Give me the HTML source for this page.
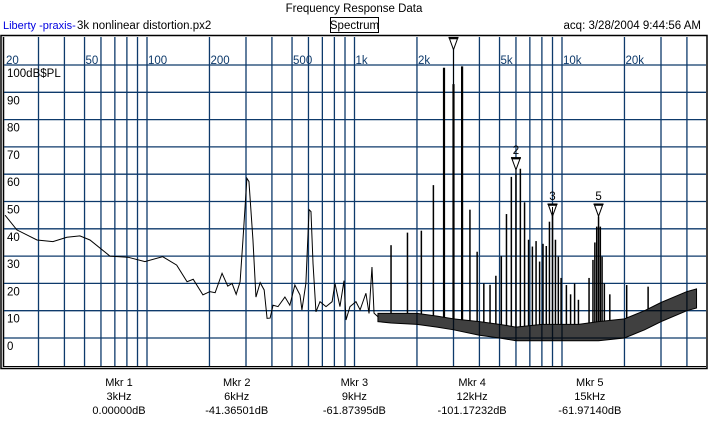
<!DOCTYPE html>
<html><head><meta charset="utf-8"><style>
html,body{margin:0;padding:0;background:#fff;}
body{width:709px;height:441px;overflow:hidden;font-family:"Liberation Sans",sans-serif;}
svg text{font-family:"Liberation Sans",sans-serif;}
</style></head><body>
<svg id="chart" width="709" height="441" xmlns="http://www.w3.org/2000/svg">
<text x="354" y="12" font-size="11.5" text-anchor="middle">Frequency Response Data</text>
<text x="3" y="29" font-size="11" fill="#0000e0">Liberty -praxis-</text>
<text x="77" y="29" font-size="11.5">3k nonlinear distortion.px2</text>
<rect x="330.5" y="17.5" width="48" height="15" fill="none" stroke="#000"/>
<text x="354.5" y="29" font-size="11.5" text-anchor="middle">Spectrum</text>
<text x="701" y="29" font-size="11.5" text-anchor="end">acq: 3/28/2004 9:44:56 AM</text>
<rect x="1" y="35.5" width="706" height="333" fill="none" stroke="#000" stroke-width="1.5"/>
<line x1="3.5" y1="37" x2="3.5" y2="367" stroke="#000" stroke-width="1.5"/>
<line x1="3" y1="366.5" x2="706" y2="366.5" stroke="#000" stroke-width="1"/>
<g id="grid"></g>
<g id="series"></g>
<g id="markers"></g>
<g id="readout"></g>
</svg>
<script>
const ns="http://www.w3.org/2000/svg";
const xTicks=[20,30,40,50,60,70,80,90,100,200,300,400,500,600,700,800,900,1000,2000,3000,4000,5000,6000,7000,8000,9000,10000,20000,30000,40000];
const xTickLabels={20:"20",50:"50",100:"100",200:"200",500:"500",1000:"1k",2000:"2k",5000:"5k",10000:"10k",20000:"20k"};
const yTicks=[100,90,80,70,60,50,40,30,20,10,0];
const yTickLabels=["100dB$PL","90","80","70","60","50","40","30","20","10","0"];
const curveFreq=[20.7,23.6,29.5,35.2,41.1,47.5,53.1,66.3,80.9,97.7,119,139,156,167,186,201,213,230,245,257,269,281,290,303,310,324,335,351,367,379,392,405,428,462,488,516,546,558,583,604,617,631,652,682,729,780,805,851,890,910,951,1016,1064,1135,1175,1214,1242,1297];
const curveDb=[45,39.6,35.9,35.3,36.9,37.4,35.9,30,29.6,28,29.8,26.7,20.6,21.5,15.8,17,16.6,23.7,19,20,16,20.6,35.9,58.5,57.3,36,15,20.3,17.6,7.2,7.3,12,11.5,15,12,19.4,15.8,10.3,20,47,46.3,27.4,9.6,13.3,11.5,13.3,20,11.5,21,6.6,11.5,13.3,10.3,16.4,9,26,9.1,7.8];
const floorFreq=[1297,1500,2000,2500,3000,4000,5000,6000,8000,10000,12000,15000,20000,25000,30000,40000,44500];
const floorLow=[6,5.5,5,4,3,1,0,-1,-1,-1,-1,-1,0,3,6,10,11];
const floorHigh=[9,9,9,8,7,6,5,4,5,5,5,6,7,10,13,17,18];
const peakFreq=[1500,1800,2100,2400,2700,3000,3300,3600,3900,4200,4500,4800,5100,5400,5700,6000,6300,6600,6900,7200,7500,7800,8100,8400,8700,9000,9300,9600,9900,10500,11000,11500,12000,13500,14100,14400,14700,15000,15300,15600,16000,17000,20500,26000];
const peakDb=[34,38.6,39.3,56,99,93,99.5,47,31.6,20,19.5,22.8,30,45.4,59,60,62,49.7,36,33.5,35.5,28,34.5,33.7,42.6,48,36,29.8,22,19.4,16,20,14,22,28.6,35,40.8,44.5,40.8,29.8,20,16,19.4,18.8];
const markerFreq=[3000,6000,9000,15000];
const markerLabel=["","2","3","5"];
const markerDb=[110,66,49,49];
const readName=["Mkr 1","Mkr 2","Mkr 3","Mkr 4","Mkr 5"];
const readFreq=["3kHz","6kHz","9kHz","12kHz","15kHz"];
const readVal=["0.00000dB","-41.36501dB","-61.87395dB","-101.17232dB","-61.97140dB"];

function X(f){return 354.5+(Math.log10(f)-3)*207.5;}
function Y(d){return 338-d*2.73;}
function mk(tag,attrs,parent){const e=document.createElementNS(ns,tag);for(const k in attrs)e.setAttribute(k,attrs[k]);parent.appendChild(e);return e;}
const grid=document.getElementById('grid');
const GC="#0e3a6b";
xTicks.forEach(f=>{
  const x=X(f);if(x<4||x>706)return;
  const l=mk('line',{x1:x,y1:37,x2:x,y2:366,stroke:GC,'stroke-width':1.3},grid);
  
  
});
Object.keys(xTickLabels).forEach(k=>{
  const t=mk('text',{x:Math.max(X(+k)+1,6),y:64,'font-size':11.5,fill:GC},grid);
  t.textContent=xTickLabels[k];
  
  
});
yTicks.forEach((d,i)=>{
  const y=Y(d);
  const l=mk('line',{x1:4,y1:y,x2:706,y2:y,stroke:GC,'stroke-width':1.3},grid);
  
  
  const t=mk('text',{x:7,y:y+12,'font-size':11.5,fill:'#000'},grid);
  t.textContent=yTickLabels[i];
  
  
});
const s=document.getElementById('series');
let pts=floorFreq.map((f,i)=>X(f)+','+Y(floorHigh[i]));
pts=pts.concat(floorFreq.slice().reverse().map((f,j)=>{const i=floorFreq.length-1-j;return X(f)+','+Y(floorLow[i]);}));
const band=mk('polygon',{points:pts.join(' '),fill:'#000','fill-opacity':0.75,stroke:'#000','stroke-width':1},s);


const cv=mk('polyline',{points:curveFreq.map((f,i)=>X(f)+','+Y(curveDb[i])).join(' '),fill:'none',stroke:'#000','stroke-width':1},s);


function floorAt(f){for(let i=0;i<floorFreq.length-1;i++){if(f>=floorFreq[i]&&f<=floorFreq[i+1]){const t=(Math.log10(f)-Math.log10(floorFreq[i]))/(Math.log10(floorFreq[i+1])-Math.log10(floorFreq[i]));return floorHigh[i]+t*(floorHigh[i+1]-floorHigh[i]);}}return 0;}
peakFreq.forEach((f,i)=>{
  const x=X(f);
  const w=peakDb[i]>80?2.2:1.5;
  const l=mk('line',{x1:x,y1:Y(floorAt(f)),x2:x,y2:Y(peakDb[i]),stroke:'#000','stroke-width':w},s);
  
  
});
const m=document.getElementById('markers');
markerFreq.forEach((f,i)=>{
  const x=X(f),y=Y(markerDb[i]);
  const g=mk('g',{},m);
  
  
  mk('line',{x1:x-5,y1:y,x2:x+5,y2:y,stroke:'#000','stroke-width':1.5},g);
  mk('polygon',{points:(x-4)+','+(y+1)+' '+(x+4)+','+(y+1)+' '+x+','+(y+12),fill:'#fff',stroke:'#000','stroke-width':1},g);
  mk('line',{x1:x,y1:y+12,x2:x,y2:Y(peakDb[peakFreq.indexOf(f)]),stroke:'#000','stroke-width':1},g);
  if(markerLabel[i]){const t=mk('text',{x:x,y:y-4,'font-size':11.5,'text-anchor':'middle'},g);t.textContent=markerLabel[i];}
});
const r=document.getElementById('readout');
readName.forEach((n,i)=>{
  const cx=119+i*117.7;
  [n,readFreq[i],readVal[i]].forEach((txt,j)=>{
    const t=mk('text',{x:cx,y:386+j*14,'font-size':11,'text-anchor':'middle'},r);
    t.textContent=txt;
    
    
  });
});
</script>
</body></html>
